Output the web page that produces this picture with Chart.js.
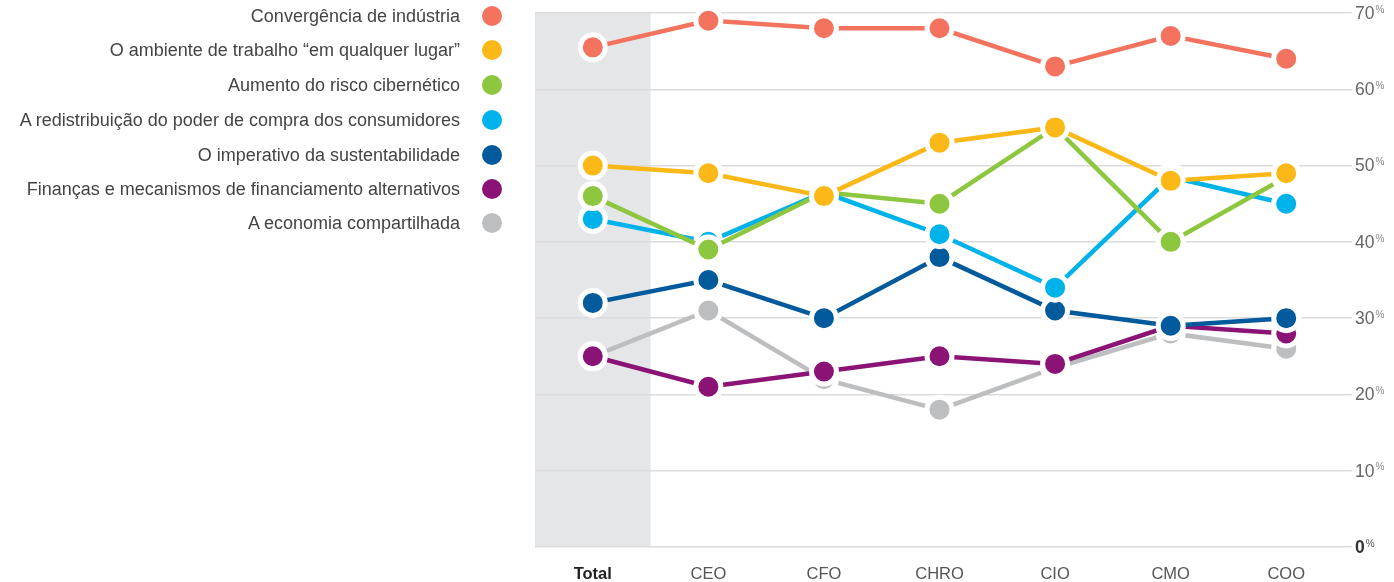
<!DOCTYPE html>
<html>
<head>
<meta charset="utf-8">
<script src="https://cdn.jsdelivr.net/npm/chart.js@4.4.1/dist/chart.umd.min.js"></script>
<style>
  html, body { margin: 0; padding: 0; background: #fff; }
  #wrap { position: relative; width: 1394px; height: 582px; }
  #chart { position: absolute; left: 0; top: 0; }
  #legend { position: absolute; left: 0; top: 0; width: 510px; font-family: "Liberation Sans", Arial, sans-serif; font-size: 18px; color: #444; }
  .item { position: absolute; right: 0; height: 20px; display: flex; align-items: center; }
  .item span.t { margin-right: 22px; white-space: nowrap; }
  .item span.d { width: 20px; height: 20px; border-radius: 50%; display: inline-block; margin-right: 8px; }
</style>
</head>
<body>
<div id="wrap">
  <canvas id="chart" width="1394" height="582"></canvas>
  <div id="legend"></div>
</div>
<script>
const categories = ["Total", "CEO", "CFO", "CHRO", "CIO", "CMO", "COO"];
const seriesNames = [
  "Convergência de indústria",
  "O ambiente de trabalho “em qualquer lugar”",
  "Aumento do risco cibernético",
  "A redistribuição do poder de compra dos consumidores",
  "O imperativo da sustentabilidade",
  "Finanças e mecanismos de financiamento alternativos",
  "A economia compartilhada"
];
const seriesColors = ["#f3735e", "#fbb817", "#8dc63f", "#00b2ea", "#005a9c", "#8b1375", "#bdbec0"];
const convergencia   = [65.5, 69, 68, 68, 63, 67, 64];
const ambiente       = [50, 49, 46, 53, 55, 48, 49];
const riscoCiber     = [46, 39, 46.5, 45, 55, 40, 48.5];
const redistribuicao = [43, 40, 46.5, 41, 34, 48.5, 45];
const sustentab      = [32, 35, 30, 38, 31, 29, 30];
const financas       = [25, 21, 23, 25, 24, 29, 28];
const economia       = [25, 31, 22, 18, 23.5, 28, 26];
const seriesValues = [convergencia, ambiente, riscoCiber, redistribuicao, sustentab, financas, economia];
const yTicks = [0, 10, 20, 30, 40, 50, 60, 70];

// HTML legend
const legendEl = document.getElementById('legend');
const rowY = [16, 50, 85, 120, 155, 189, 223];
seriesNames.forEach((n, i) => {
  const d = document.createElement('div');
  d.className = 'item';
  d.style.top = (rowY[i] - 10) + 'px';
  d.innerHTML = '<span class="t">' + n + '</span><span class="d" style="background:' + seriesColors[i] + '"></span>';
  legendEl.appendChild(d);
});

const bandPlugin = {
  id: 'band',
  beforeDraw(chart) {
    const { ctx, chartArea, scales } = chart;
    const x = scales.x;
    const right = (x.getPixelForValue(0) + x.getPixelForValue(1)) / 2;
    ctx.save();
    ctx.fillStyle = '#e5e6e8';
    const top = scales.y.getPixelForValue(70);
    ctx.fillRect(chartArea.left, top, right - chartArea.left, scales.y.getPixelForValue(0) - top);
    ctx.restore();
  }
};

const yLabelPlugin = {
  id: 'ylabels',
  afterDraw(chart) {
    const { ctx, scales, chartArea } = chart;
    ctx.save();
    yTicks.forEach(v => {
      const y = scales.y.getPixelForValue(v);
      const x0 = chartArea.right + 11;
      const bold = v === 0;
      ctx.font = (bold ? 'bold ' : '') + '17.5px "Liberation Sans", Arial, sans-serif';
      ctx.fillStyle = bold ? '#333' : '#666';
      ctx.textBaseline = 'middle';
      ctx.textAlign = 'left';
      const s = String(v);
      ctx.fillText(s, x0, y + 1);
      const w = ctx.measureText(s).width;
      ctx.font = '10px "Liberation Sans", Arial, sans-serif';
      ctx.fillStyle = bold ? '#555' : '#888';
      ctx.fillText('%', x0 + w + 1, y - 3);
    });
    ctx.restore();
  }
};

const datasets = seriesNames.map((n, i) => ({
  label: n,
  data: seriesValues[i],
  borderColor: seriesColors[i],
  backgroundColor: seriesColors[i],
  borderWidth: 4.5,
  pointRadius: 12.5,
  pointHoverRadius: 12.5,
  pointBorderColor: '#ffffff',
  pointBorderWidth: 5,
  pointBackgroundColor: seriesColors[i],
  tension: 0,
  clip: false
}));

new Chart(document.getElementById('chart'), {
  type: 'line',
  data: { labels: categories, datasets },
  plugins: [bandPlugin, yLabelPlugin],
  options: {
    responsive: false,
    animation: false,
    events: [],
    layout: { autoPadding: false, padding: { left: 535, top: 13, right: 0, bottom: 0 } },
    plugins: { legend: { display: false }, tooltip: { enabled: false } },
    scales: {
      x: {
        offset: true,
        grid: { display: false },
        border: { display: false },
        afterFit(s) { s.height = 35; },
        ticks: {
          padding: 10,
          color: (c) => c.index === 0 ? '#222' : '#555',
          font: (c) => ({ family: '"Liberation Sans Narrow", "Liberation Sans", Arial, sans-serif', size: 16.5, weight: c.index === 0 ? 'bold' : 'normal' })
        }
      },
      y: {
        position: 'right',
        min: 0, max: 70,
        afterFit(s) { s.width = 50; },
        grid: { color: '#dcdcdc', lineWidth: 1.5, tickLength: 8, drawTicks: true },
        border: { display: false },
        ticks: { stepSize: 10, display: true, color: 'rgba(0,0,0,0)', font: { size: 1 } }
      }
    }
  }
});
</script>
</body>
</html>
